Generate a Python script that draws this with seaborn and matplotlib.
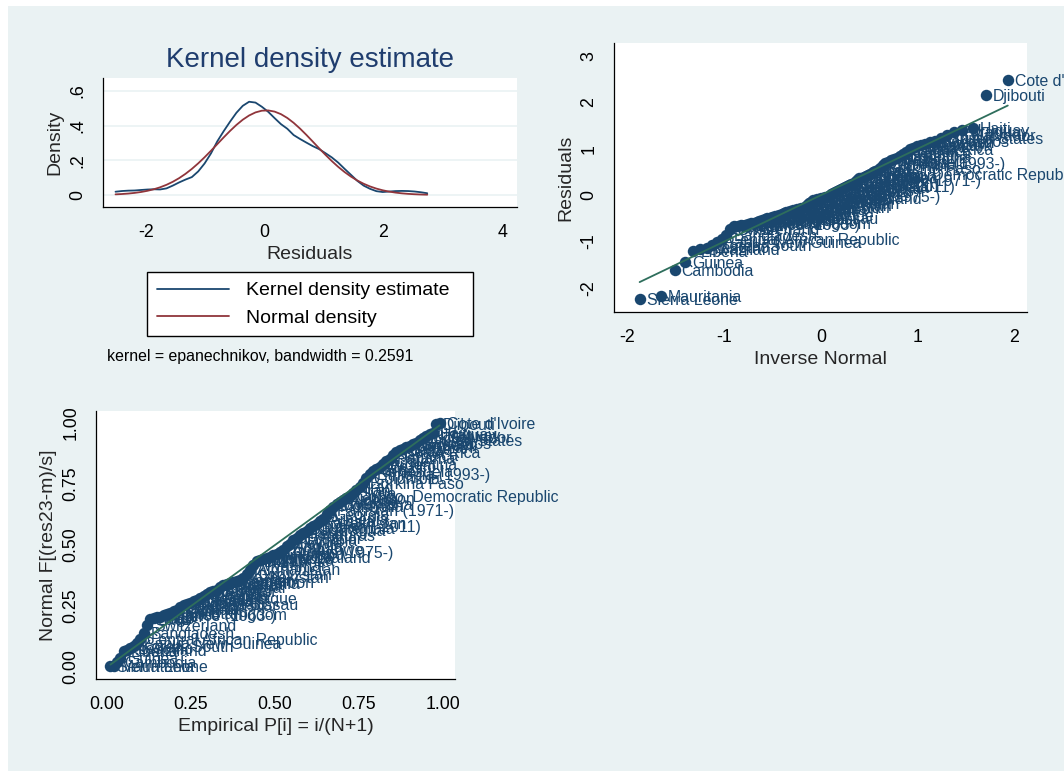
import numpy as np
import pandas as pd
import matplotlib
matplotlib.use("Agg")
import matplotlib.pyplot as plt
from matplotlib.patches import Rectangle
import seaborn as sns
from statistics import NormalDist

# ---------------- data (sorted by residual) ----------------
countries = [
    "Sierra Leone", "Mauritania", "Cambodia", "Guinea", "Liberia", "Swaziland",
    "Lesotho", "Korea, South", "Papua New Guinea", "Central African Republic",
    "Bangladesh", "Switzerland", "Laos", "Togo", "Mali", "Niger", "France (1963-)",
    "United Kingdom", "Tajikistan", "Benin", "Gambia", "Bhutan", "Madagascar",
    "Guinea-Bissau", "Indonesia", "Zambia", "Malawi", "Mozambique", "Rwanda",
    "Uganda", "Kenya", "Burundi", "Chad", "Senegal", "Ghana", "Nigeria", "Tanzania",
    "Cameroon", "Jordan", "Yemen", "Uzbekistan", "Kyrgyzstan", "Afghanistan",
    "Myanmar", "India", "Sri Lanka", "Egypt", "Morocco", "New Zealand", "Finland",
    "Thailand", "Cyprus (1975-)", "Zimbabwe", "Angola", "Bolivia", "Namibia",
    "Ecuador", "Honduras", "Peru", "Nicaragua", "Guatemala", "Sudan (-2011)",
    "Kazakhstan", "Russia", "Armenia", "Georgia", "Pakistan (1971-)", "Mongolia",
    "Botswana", "Tunisia", "Algeria", "Lebanon", "Congo, Democratic Republic",
    "Syria", "Iran", "Iraq", "Burkina Faso", "Colombia", "Ethiopia (1993-)",
    "Venezuela", "Brazil", "Mexico", "Argentina", "Chile", "Panama", "Jamaica",
    "Costa Rica", "Cuba", "Belize", "Denmark", "Norway", "Sweden", "Barbados",
    "United States", "El Salvador", "Paraguay", "Uruguay", "Haiti", "Djibouti",
    "Cote d'Ivoire",
]
residuals = [
    -2.25, -2.18, -1.62, -1.45, -1.20, -1.17, -1.13, -1.08, -1.02, -0.95,
    -0.86, -0.74, -0.67, -0.66, -0.65, -0.64, -0.62, -0.61, -0.60, -0.58,
    -0.56, -0.53, -0.51, -0.50, -0.49, -0.47, -0.46, -0.44, -0.42, -0.40,
    -0.38, -0.37, -0.36, -0.34, -0.32, -0.31, -0.30, -0.29, -0.28, -0.27,
    -0.25, -0.22, -0.18, -0.14, -0.11, -0.10, -0.09, -0.08, -0.07, -0.06,
    -0.05, -0.03, -0.01, 0.02, 0.04, 0.07, 0.09, 0.11, 0.13, 0.15,
    0.17, 0.19, 0.21, 0.23, 0.25, 0.29, 0.33, 0.36, 0.38, 0.40,
    0.42, 0.44, 0.46, 0.49, 0.52, 0.55, 0.59, 0.64, 0.69, 0.72,
    0.75, 0.78, 0.81, 0.85, 0.89, 0.94, 0.99, 1.02, 1.05, 1.08,
    1.11, 1.14, 1.17, 1.23, 1.30, 1.36, 1.40, 1.45, 2.15, 2.48,
]
bandwidth = 0.2591

kde_ticks_x = [-2, 0, 2, 4]
kde_ticks_y = [0, 0.2, 0.4, 0.6]
kde_tick_labels_y = ["0", ".2", ".4", ".6"]
qn_ticks_x = [-2, -1, 0, 1, 2]
qn_ticks_y = [-2, -1, 0, 1, 2, 3]
pp_ticks = [0, 0.25, 0.5, 0.75, 1.0]
pp_tick_labels = ["0.00", "0.25", "0.50", "0.75", "1.00"]

# ---------------- derived statistics ----------------
df = pd.DataFrame({"country": countries, "res": residuals}).sort_values("res").reset_index(drop=True)
r = df["res"].to_numpy()
N = len(r)
m = r.mean()
s = r.std(ddof=1)
p = np.arange(1, N + 1) / (N + 1)
df["p"] = p
df["qx"] = [m + s * NormalDist().inv_cdf(v) for v in p]
df["ppy"] = [NormalDist(m, s).cdf(v) for v in r]

grid = np.linspace(r.min() - bandwidth, r.max() + bandwidth, 50)
u = (grid[:, None] - r[None, :]) / bandwidth
K = np.where(np.abs(u) < np.sqrt(5), 0.75 * (1 - u ** 2 / 5) / np.sqrt(5), 0.0)
dens = K.sum(axis=1) / (N * bandwidth)
norm_d = np.array([NormalDist(m, s).pdf(v) for v in grid])
kde_df = pd.DataFrame({"x": np.concatenate([grid, grid]),
                       "y": np.concatenate([dens, norm_d]),
                       "kind": ["Kernel density estimate"] * len(grid) + ["Normal density"] * len(grid)})

# ---------------- style ----------------
sns.set_theme(style="white")
plt.rcParams["font.family"] = ["Liberation Sans", "DejaVu Sans"]

BG = "#EAF2F3"
NAVY = "#1a476f"
MAROON = "#90353b"
GREEN = "#2e6e5c"
TITLE = "#1f3d6e"
W, H = 1064, 771

fig = plt.figure(figsize=(W / 100, H / 100), dpi=100)
fig.patch.set_facecolor("white")
fig.patches.append(Rectangle((8 / W, 0), 1 - 8 / W, 1 - 6 / H, transform=fig.transFigure,
                             facecolor=BG, edgecolor="none", zorder=-10))


def box(l, t, r_, b):
    return [l / W, 1 - b / H, (r_ - l) / W, (b - t) / H]


def style_axes(ax):
    ax.set_facecolor("white")
    for sp in ["top", "right"]:
        ax.spines[sp].set_visible(False)
    for sp in ["left", "bottom"]:
        ax.spines[sp].set_color("black")
        ax.spines[sp].set_linewidth(0.9)
    ax.tick_params(axis="both", direction="out", length=5, width=0.9, color="black",
                   labelsize=12.8, labelcolor="black", pad=7)
    ax.xaxis.label.set_size(14)
    ax.yaxis.label.set_size(14)


# ---------------- panel 1: kernel density ----------------
ax1 = fig.add_axes(box(103, 78, 517, 207))
style_axes(ax1)
for yv in kde_ticks_y:
    ax1.axhline(yv, color=BG, lw=1.2, zorder=0)
sns.lineplot(data=kde_df, x="x", y="y", hue="kind", palette=[NAVY, MAROON], ax=ax1,
             lw=1.3, legend=True)
ax1.set_xlim(-2.72, 4.25)
ax1.set_ylim(-0.069, 0.675)
ax1.set_xticks(kde_ticks_x)
ax1.set_xticklabels([str(t) for t in kde_ticks_x])
ax1.set_yticks(kde_ticks_y)
ax1.set_yticklabels(kde_tick_labels_y, rotation=90, va="center")
ax1.set_xlabel("Residuals", labelpad=4)
ax1.set_ylabel("Density", labelpad=4)
leg = ax1.legend(loc="upper left", bbox_to_anchor=(147 / W, 1 - 340 / H, 326 / W, 68 / H),
                 bbox_transform=fig.transFigure, mode="expand", frameon=True, fancybox=False,
                 framealpha=1.0, fontsize=14, handlelength=3.7, handletextpad=0.9,
                 labelspacing=0.5, borderpad=0.5, borderaxespad=0)
leg.get_frame().set_edgecolor("black")
leg.get_frame().set_linewidth(1.0)
leg.get_frame().set_facecolor("white")
for t in leg.get_texts():
    t.set_color("black")
fig.text(310 / W, 1 - 60 / H, "Kernel density estimate", ha="center", va="center",
         fontsize=20, color=TITLE)
fig.text(107 / W, 1 - 357 / H, "kernel = epanechnikov, bandwidth = 0.2591",
         ha="left", va="center", fontsize=11.4, color="black")

# ---------------- panel 2: quantile-normal ----------------
ax2 = fig.add_axes(box(614, 43, 1027, 312))
style_axes(ax2)
for _, row in df.iterrows():
    ax2.annotate(row["country"], (row["qx"], row["res"]), xytext=(5, -1),
                 textcoords="offset points", ha="left", va="center", fontsize=11.4,
                 color=NAVY, annotation_clip=False, zorder=2)
sns.scatterplot(data=df, x="qx", y="res", ax=ax2, color=NAVY, s=68, linewidth=0, zorder=3)
lo, hi = df["qx"].iloc[0], df["qx"].iloc[-1]
sns.lineplot(x=[lo, hi], y=[lo, hi], ax=ax2, color=GREEN, lw=1.3, zorder=4)
ax2.set_xlim(-2.14, 2.13)
ax2.set_ylim(-2.52, 3.28)
ax2.set_xticks(qn_ticks_x)
ax2.set_xticklabels([str(t) for t in qn_ticks_x])
ax2.set_yticks(qn_ticks_y)
ax2.set_yticklabels([str(t) for t in qn_ticks_y], rotation=90, va="center")
ax2.set_xlabel("Inverse Normal", labelpad=4)
ax2.set_ylabel("Residuals", labelpad=4)

# ---------------- panel 3: probability-normal ----------------
ax3 = fig.add_axes(box(96, 411, 455, 679))
style_axes(ax3)
for _, row in df.iterrows():
    ax3.annotate(row["country"], (row["p"], row["ppy"]), xytext=(5, -1),
                 textcoords="offset points", ha="left", va="center", fontsize=11.4,
                 color=NAVY, annotation_clip=False, zorder=2)
sns.scatterplot(data=df, x="p", y="ppy", ax=ax3, color=NAVY, s=68, linewidth=0, zorder=3)
lo, hi = df["p"].iloc[0], df["p"].iloc[-1]
sns.lineplot(x=[lo, hi], y=[lo, hi], ax=ax3, color=GREEN, lw=1.3, zorder=4)
ax3.set_xlim(-0.033, 1.036)
ax3.set_ylim(-0.049, 1.049)
ax3.set_xticks(pp_ticks)
ax3.set_xticklabels(pp_tick_labels)
ax3.set_yticks(pp_ticks)
ax3.set_yticklabels(pp_tick_labels, rotation=90, va="center")
ax3.set_xlabel("Empirical P[i] = i/(N+1)", labelpad=4)
ax3.set_ylabel("Normal F[(res23-m)/s]", labelpad=4)

fig.savefig("out.png", dpi=100, facecolor=fig.get_facecolor())
